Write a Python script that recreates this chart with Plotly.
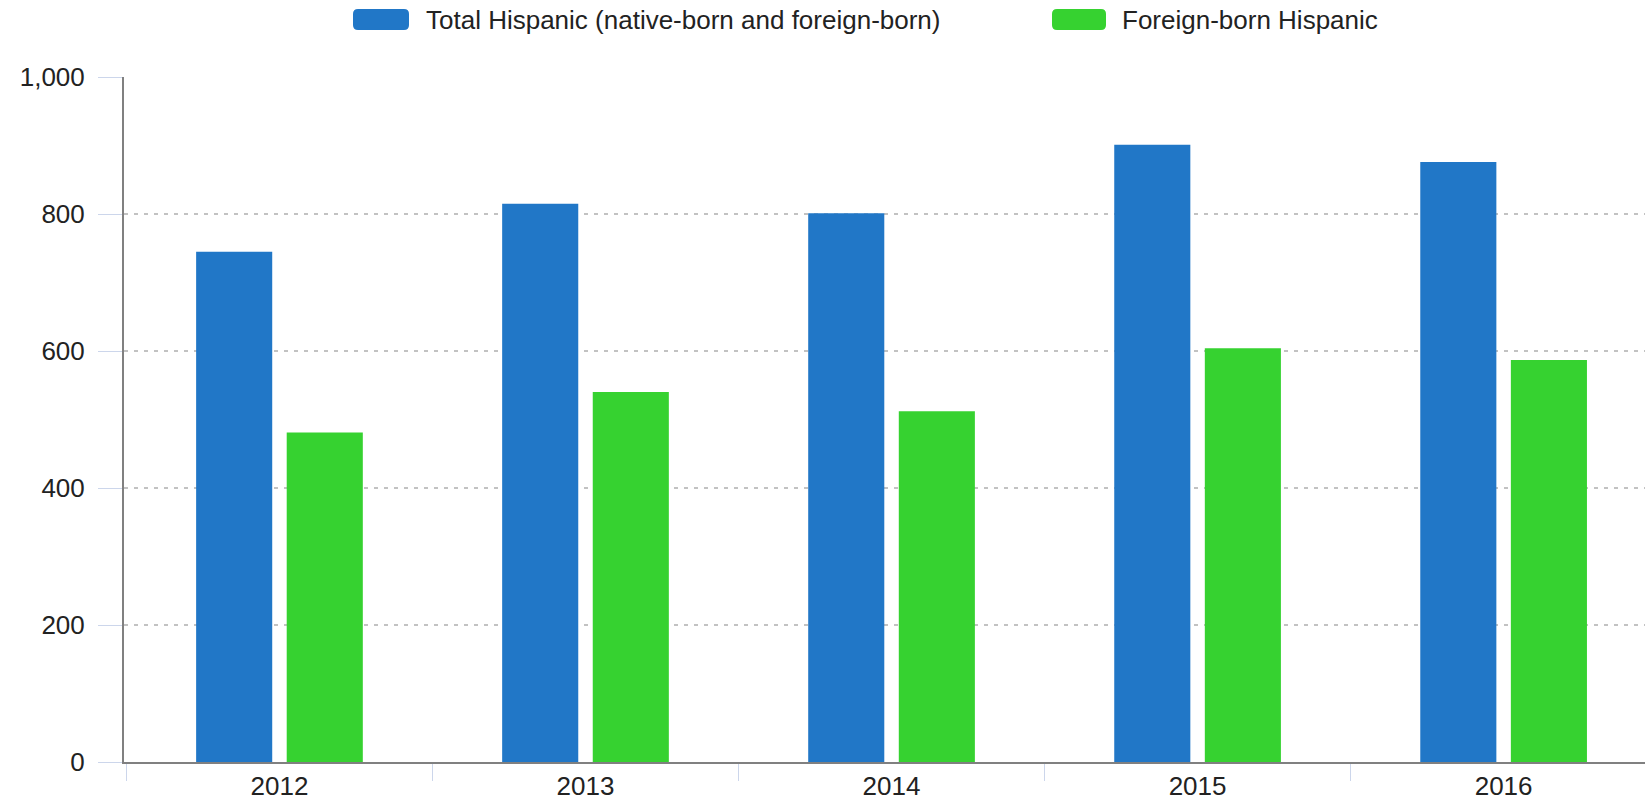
import plotly.graph_objects as go

# ---- data ----
years = ["2012", "2013", "2014", "2015", "2016"]
total_hispanic = [745, 815, 801, 901, 876]
foreign_born_hispanic = [481, 540, 512, 604, 587]
series_names = ["Total Hispanic (native-born and foreign-born)", "Foreign-born Hispanic"]
series_colors = ["#2177c7", "#36d230"]
y_tick_values = [0, 200, 400, 600, 800, 1000]

# ---- layout geometry (pixels) ----
W, H = 1645, 802
L, R, T, B = 124, 0, 77, 40
PW, PH = W - L - R, H - T - B

def px_x(p):
    return (p - L) / PW

def px_y(p):
    return (H - B - p) / PH

FONT = "Liberation Sans, Arial, Helvetica, sans-serif"

fig = go.Figure()
for name, vals, col in zip(series_names, [total_hispanic, foreign_born_hispanic], series_colors):
    fig.add_trace(go.Bar(x=years, y=vals, name=name, marker=dict(color=col, line=dict(width=0)),
                         showlegend=False))

fig.update_layout(
    width=W, height=H,
    margin=dict(l=L, r=R, t=T, b=B, pad=0, autoexpand=False),
    barmode="group", bargap=0.408, bargroupgap=0.16,
    plot_bgcolor="white", paper_bgcolor="white",
    font=dict(family=FONT, size=26, color="#222222"),
)

fig.update_yaxes(
    range=[0, 1000], tickvals=y_tick_values, tickformat=",",
    showgrid=True, gridcolor="#c2c2c2", griddash="4px,6px", gridwidth=1.6,
    showline=True, linecolor="#808080", linewidth=2,
    ticks="outside", ticklen=24, tickcolor="#ccd6eb", tickwidth=1,
    ticklabelstandoff=8, zeroline=False, automargin=False,
)
fig.update_xaxes(
    type="category", range=[-0.508, 4.462],
    tickson="boundaries", ticks="outside", ticklen=17, tickcolor="#ccd6eb", tickwidth=1,
    showline=True, linecolor="#808080", linewidth=2, showgrid=False, automargin=False,
)

# ---- custom legend (large rounded swatches like the reference) ----
def rounded_rect(w, h, r):
    return (f"M{r},0 L{w-r},0 Q{w},0 {w},{r} L{w},{h-r} Q{w},{h} {w-r},{h} "
            f"L{r},{h} Q0,{h} 0,{h-r} L0,{r} Q0,0 {r},0 Z")

legend_items = [
    (353, 409, 424),
    (1052, 1106, 1120),
]
SW_TOP, SW_BOT = 9, 30
for (sx0, sx1, tx), name, col in zip(legend_items, series_names, series_colors):
    fig.add_shape(type="path", xref="paper", yref="paper",
                  xsizemode="pixel", ysizemode="pixel",
                  xanchor=px_x(sx0), yanchor=px_y(SW_BOT),
                  path=rounded_rect(sx1 - sx0, SW_BOT - SW_TOP, 5),
                  fillcolor=col, line=dict(width=0), layer="above")
    fig.add_annotation(xref="paper", yref="paper", x=px_x(tx), y=px_y(20),
                       xanchor="left", yanchor="middle", text=name, showarrow=False,
                       font=dict(family=FONT, size=26, color="#222222"))

fig.write_html("out.html", config={"displayModeBar": False},
               post_script="document.body.style.margin='0';document.body.style.overflow='hidden';")
